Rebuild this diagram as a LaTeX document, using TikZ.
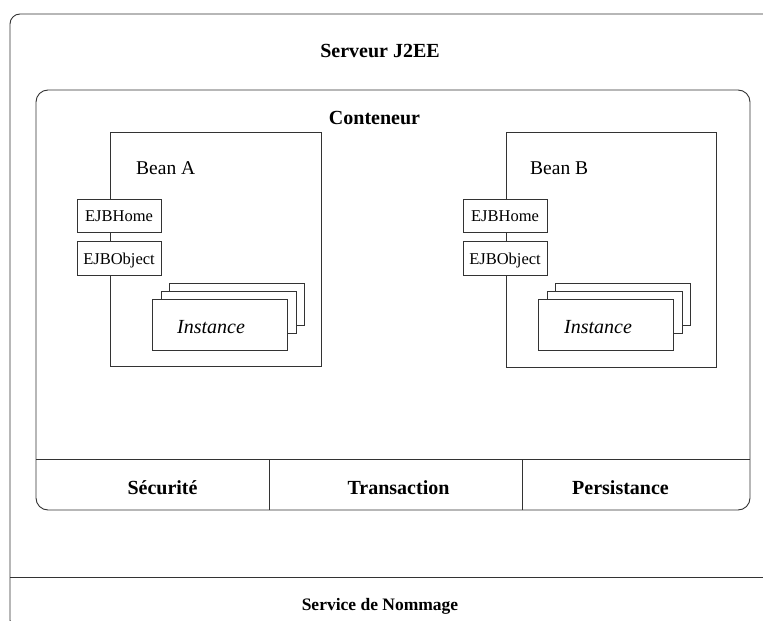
\documentclass[tikz,border=0pt]{standalone}
\usepackage{fontspec}
\setmainfont{Liberation Serif}
\tikzset{
	cadre/.style={draw=black!80,line width=0.9pt,fill=white,inner sep=0,outer sep=0},
	titre/.style={font=\fontsize{20}{24}\selectfont\bfseries,inner sep=0},
	iface/.style={cadre,font=\fontsize{16.5}{20}\selectfont,minimum width=84pt,minimum height=33pt,text height=12pt,text depth=0pt},
	inst/.style={cadre,minimum width=135pt,minimum height=42pt},
}
\begin{document}
\begin{tikzpicture}[x=1pt,y=-1pt]
	\useasboundingbox (0,0) rectangle (763,621);
	\clip (0,0) rectangle (763,621);
	\node[cadre,rounded corners=10pt,minimum width=765pt,minimum height=616pt] (serveur) at (392.5,322) {};
	\node[titre,anchor=base] (tserveur) at (380,57) {Serveur J2EE};
	\coordinate (nom) at (0,577);
	\draw[black!80,line width=0.9pt] (serveur.west |- nom) -- (serveur.east |- nom);
	\node[titre,font=\fontsize{17.5}{21}\selectfont\bfseries,anchor=base] (tnom) at (380,610) {Service de Nommage};
	\node[cadre,rounded corners=12pt,minimum width=714pt,minimum height=420pt] (conteneur) at (393,300) {};
	\node[titre,anchor=base] (tconteneur) at (374.5,124) {Conteneur};
	\coordinate (sep) at (0,459);
	\coordinate (div1) at (269,0);
	\coordinate (div2) at (522,0);
	\draw[black!80,line width=0.9pt] (conteneur.west |- sep) -- (conteneur.east |- sep);
	\draw[black!80,line width=0.9pt] (div1 |- sep) -- (div1 |- conteneur.south);
	\draw[black!80,line width=0.9pt] (div2 |- sep) -- (div2 |- conteneur.south);
	\node[titre,anchor=base] (securite) at (162.5,494) {Sécurité};
	\node[titre,anchor=base] (transaction) at (398.5,494) {Transaction};
	\node[titre,anchor=base] (persistance) at (620.5,494) {Persistance};
	% Bean A
	\node[cadre,minimum width=211pt,minimum height=234pt] (beanA) at (215.5,249) {};
	\node[anchor=base west,inner sep=0,font=\fontsize{19.5}{24}\selectfont] (tbeanA) at (136,174) {Bean A};
	\node[iface] (homeA) at (119,215.5) {EJBHome};
	\node[iface,minimum height=34pt] (objectA) at (119,258) {EJBObject};
	\node[inst] (instA3) at (236.5,304) {};
	\node[inst] (instA2) at (228.5,312) {};
	\node[inst,minimum height=51pt] (instA1) at (219.5,324.5) {};
	\node[anchor=base west,inner sep=0,font=\fontsize{20}{24}\selectfont\itshape] (tinstA) at (177,333) {Instance};
	% Bean B
	\node[cadre,minimum width=210pt,minimum height=235pt] (beanB) at (611,249.5) {};
	\node[anchor=base west,inner sep=0,font=\fontsize{19.5}{24}\selectfont] (tbeanB) at (530,174) {Bean B};
	\node[iface] (homeB) at (505,215.5) {EJBHome};
	\node[iface,minimum height=34pt] (objectB) at (505,258) {EJBObject};
	\node[inst] (instB3) at (623,304) {};
	\node[inst] (instB2) at (615,312) {};
	\node[inst,minimum height=51pt] (instB1) at (606,325) {};
	\node[anchor=base west,inner sep=0,font=\fontsize{20}{24}\selectfont\itshape] (tinstB) at (564,333) {Instance};
\end{tikzpicture}
\end{document}
